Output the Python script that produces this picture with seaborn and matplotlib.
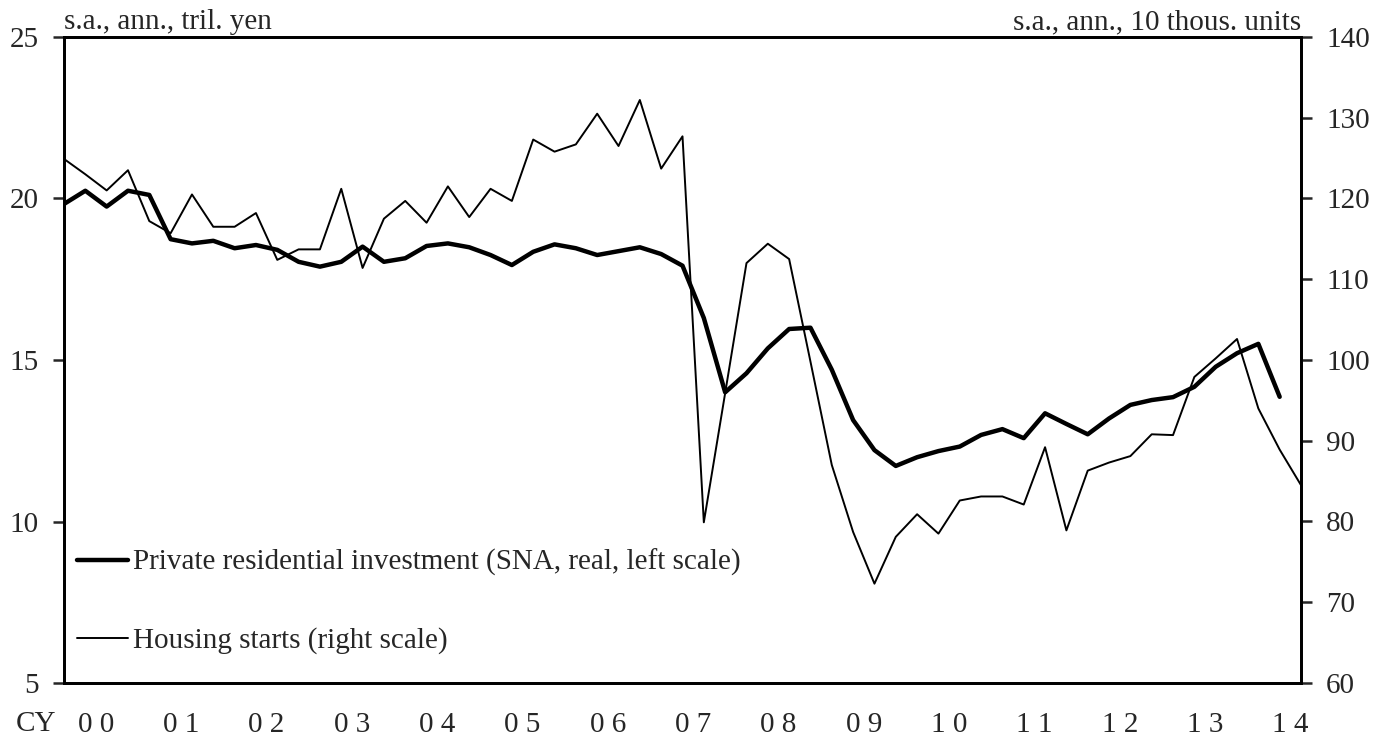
import matplotlib
matplotlib.use("Agg")
import matplotlib.pyplot as plt
import seaborn as sns
import pandas as pd
import numpy as np

# quarterly data, 2000Q1 .. 2014Q3
quarters = [f"{y}Q{q}" for y in range(2000, 2015) for q in range(1, 5)][:59]

# housing starts (right scale, s.a., ann., 10 thous. units)
housing_starts = [
    124.9, 123.0, 121.0, 123.5, 117.2, 115.7, 120.5, 116.5, 116.5, 118.2,
    112.4, 113.7, 113.7, 121.2, 111.4, 117.5, 119.7, 117.0, 121.5, 117.7,
    121.2, 119.7, 127.3, 125.8, 126.7, 130.5, 126.5, 132.2, 123.7, 127.7,
    79.9, 95.9, 112.0, 114.4, 112.5, 99.8, 87.0, 78.7, 72.3, 78.1,
    80.9, 78.5, 82.6, 83.1, 83.1, 82.1, 89.2, 78.9, 86.3, 87.3,
    88.1, 90.8, 90.7, 97.9, 100.2, 102.6, 94.0, 88.9, 84.5,
]

# private residential investment (left scale, SNA real, tril. yen), to 2014Q2
residential_inv = [
    19.83, 20.24, 19.75, 20.24, 20.11, 18.74, 18.61, 18.69, 18.46, 18.56,
    18.41, 18.04, 17.89, 18.04, 18.51, 18.04, 18.15, 18.53, 18.61, 18.49,
    18.25, 17.94, 18.35, 18.58, 18.46, 18.25, 18.37, 18.49, 18.28, 17.92,
    16.30, 14.00, 14.59, 15.36, 15.96, 16.00, 14.70, 13.14, 12.21, 11.72,
    11.99, 12.18, 12.32, 12.68, 12.86, 12.58, 13.35, 13.02, 12.70, 13.19,
    13.61, 13.76, 13.85, 14.17, 14.79, 15.21, 15.50, 13.86,
]

year_labels = ["0 0", "0 1", "0 2", "0 3", "0 4", "0 5", "0 6", "0 7",
               "0 8", "0 9", "1 0", "1 1", "1 2", "1 3", "1 4"]

left_ticks = [5, 10, 15, 20, 25]
right_ticks = [60, 70, 80, 90, 100, 110, 120, 130, 140]

FS = 21

sns.set_style("white")
plt.rcParams['font.family'] = ['Liberation Serif', 'DejaVu Serif']
plt.rcParams['font.size'] = FS

df_hs = pd.DataFrame({'q': np.arange(len(housing_starts)), 'v': housing_starts})
df_ri = pd.DataFrame({'q': np.arange(len(residential_inv)), 'v': residential_inv})

fig = plt.figure(figsize=(13.87, 7.40), dpi=100)
ax = fig.add_axes([64 / 1387, 1 - 683 / 740, (1301 - 64) / 1387, (683 - 37) / 740])
ax2 = ax.twinx()

sns.lineplot(data=df_ri, x='q', y='v', ax=ax, color='black', linewidth=3.2,
             label='Private residential investment (SNA, real, left scale)', legend=False)
sns.lineplot(data=df_hs, x='q', y='v', ax=ax2, color='black', linewidth=1.4,
             label='Housing starts (right scale)', legend=False)

n = len(housing_starts) - 1
ax.set_xlim(0, n)
ax.set_ylim(5, 25)
ax2.set_ylim(60, 140)
ax.set_yticks(left_ticks)
ax2.set_yticks(right_ticks)

# year boundaries as ticks, year labels centred inside each year
ax.set_xticks(np.arange(4, n + 1, 4))
ax.set_xticklabels([])
ax.set_xticks(np.arange(len(year_labels)) * 4 + 1.5, minor=True)
ax.set_xticklabels(year_labels, minor=True)
ax.tick_params(axis='x', which='major', direction='in', length=8, width=1.8)
ax.tick_params(axis='x', which='minor', length=0, pad=21, labelsize=FS)
ax.tick_params(axis='y', direction='out', length=8, width=1.8, labelsize=FS, pad=10)
ax2.tick_params(axis='y', direction='out', length=8, width=1.8, labelsize=FS, pad=10)

ax.set_xlabel('')
ax.set_ylabel('')
ax2.set_xlabel('')
ax2.set_ylabel('')

for a in (ax, ax2):
    for s in a.spines.values():
        s.set_linewidth(2.0)
        s.set_color('black')

ax.text(0.0, 1.003, 's.a., ann., tril. yen', transform=ax.transAxes,
        ha='left', va='bottom', fontsize=FS)
ax.text(1.0, 1.003, 's.a., ann., 10 thous. units', transform=ax.transAxes,
        ha='right', va='bottom', fontsize=FS)
fig.text(36 / 1387, 1 - 724 / 740, 'CY', ha='center', va='center', fontsize=FS)

h1, l1 = ax.get_legend_handles_labels()
h2, l2 = ax2.get_legend_handles_labels()
ax2.legend(h1 + h2, l1 + l2, loc='upper left', bbox_to_anchor=(13 / 1237, (683 - 549) / 646),
           frameon=False, handlelength=1.75, handletextpad=0.17, labelspacing=1.75,
           borderaxespad=0, borderpad=0, fontsize=FS)

fig.savefig('out.png', dpi=100)
